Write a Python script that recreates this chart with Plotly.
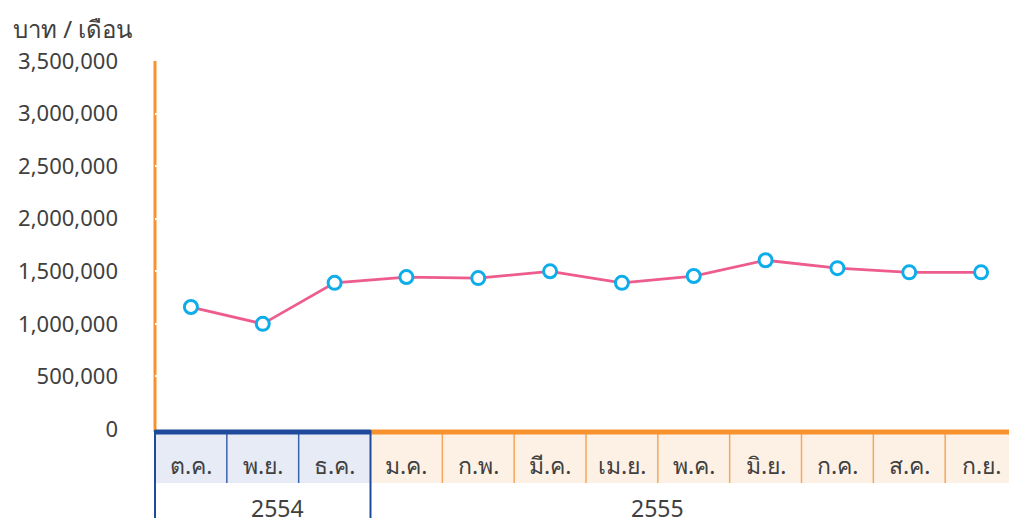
import plotly.graph_objects as go

months = ['ต.ค.', 'พ.ย.', 'ธ.ค.', 'ม.ค.', 'ก.พ.', 'มี.ค.',
          'เม.ย.', 'พ.ค.', 'มิ.ย.', 'ก.ค.', 'ส.ค.', 'ก.ย.']
income = [1160000, 1000000, 1390000, 1445000, 1435000, 1500000,
          1390000, 1455000, 1605000, 1530000, 1490000, 1490000]
years = ['2554', '2555']
year_months = [3, 9]  # months in each fiscal-year group
y_ticks = [0, 500000, 1000000, 1500000, 2000000, 2500000, 3000000, 3500000]

# the page body has an 8px margin, so the figure is a bit smaller than the window
OFF = 8
W, H = 1017 - OFF, 530 - OFF
M_L, M_R, M_T, M_B = 155 - OFF, 0, 61 - OFF, 101
plot_w = W - M_L - M_R
plot_h = H - M_T - M_B

FONT = "Noto Sans, DejaVu Sans, sans-serif"
TXT = '#404040'
ORANGE = '#F7922F'
BLUE = '#1F4A9C'


def py(px):
    # window pixel row -> paper y
    return (H - M_B - (px - OFF)) / plot_h


def px_x(px):
    # window pixel column -> paper x
    return (px - OFF - M_L) / plot_w


fig = go.Figure()

fig.add_trace(go.Scatter(
    x=list(range(len(months))), y=income,
    mode='lines+markers',
    line=dict(color='#EE5C8D', width=2.8),
    marker=dict(size=13, color='white', line=dict(color='#0DADEA', width=3)),
    hoverinfo='y', showlegend=False))

n = len(months)
shapes = []

# y axis line (gridlines drawn over it leave small white gaps)
shapes.append(dict(type='line', xref='paper', yref='paper', x0=0, x1=0,
                   y0=1, y1=py(432), line=dict(color=ORANGE, width=3), layer='below'))

# table cells under the axis
start = 0
for gi, (yr, cnt) in enumerate(zip(years, year_months)):
    fill = '#E6EBF5' if gi == 0 else '#FDF1E6'
    sep = '#3A62AE' if gi == 0 else '#F6A65A'
    top = BLUE if gi == 0 else ORANGE
    shapes.append(dict(type='rect', xref='paper', yref='paper',
                       x0=start / n, x1=(start + cnt) / n, y0=py(483), y1=py(433),
                       fillcolor=fill, line=dict(width=0), layer='below'))
    for j in range(start + 1, start + cnt):
        shapes.append(dict(type='line', xref='paper', yref='paper', x0=j / n, x1=j / n,
                           y0=py(483), y1=py(433), line=dict(color=sep, width=1.5)))
    shapes.append(dict(type='line', xref='paper', yref='paper',
                       x0=start / n, x1=(start + cnt) / n, y0=py(432), y1=py(432),
                       line=dict(color=top, width=5)))
    start += cnt

# outline of the 2554 group
for j in (0, year_months[0]):
    shapes.append(dict(type='line', xref='paper', yref='paper', x0=j / n, x1=j / n,
                       y0=py(430), y1=py(518), line=dict(color=BLUE, width=2)))

annotations = []
for i, m in enumerate(months):
    annotations.append(dict(x=i, y=py(465), xref='x', yref='paper', text=m,
                            xanchor='center', yanchor='middle',
                            showarrow=False, font=dict(size=23, color=TXT)))

year_x = [1.2, 6.5]
for yr, xx in zip(years, year_x):
    annotations.append(dict(x=xx, y=py(508), xref='x', yref='paper', text=yr,
                            xanchor='center', yanchor='middle',
                            showarrow=False, font=dict(size=23, color=TXT)))

annotations.append(dict(x=px_x(11), y=py(28), xref='paper', yref='paper',
                        xanchor='left', yanchor='middle',
                        text='บาท / เดือน', showarrow=False, font=dict(size=24, color=TXT)))

fig.update_layout(
    width=W, height=H,
    margin=dict(l=M_L, r=M_R, t=M_T, b=M_B),
    paper_bgcolor='white', plot_bgcolor='white',
    font=dict(family=FONT, color=TXT),
    xaxis=dict(range=[-0.5, n - 0.5], showgrid=False, zeroline=False,
               showticklabels=False, showline=False, fixedrange=True),
    yaxis=dict(range=[0, 3500000], tickvals=y_ticks,
               ticktext=[f'{v:,}' for v in y_ticks],
               showgrid=True, gridcolor='white', gridwidth=1.5, zeroline=False,
               showline=False, ticks='', ticklabelstandoff=36,
               tickfont=dict(size=22, color=TXT), fixedrange=True),
    shapes=shapes,
    annotations=annotations,
)

fig.write_html("out.html")
